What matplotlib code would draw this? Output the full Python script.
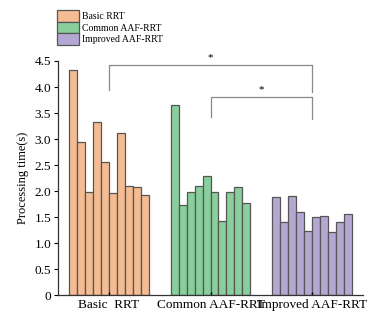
import numpy as np
import matplotlib
matplotlib.use("Agg")
import matplotlib.pyplot as plt

plt.rcParams["font.family"] = ["Liberation Serif", "DejaVu Serif"]

groups = ["Basic  RRT", "Common AAF-RRT", "Improved AAF-RRT"]
series_names = ["Basic RRT", "Common AAF-RRT", "Improved AAF-RRT"]
basic_rrt = [4.33, 2.94, 1.99, 3.32, 2.55, 1.96, 3.11, 2.09, 2.08, 1.92]
common_aaf = [3.65, 1.74, 1.99, 2.10, 2.29, 1.99, 1.42, 1.98, 2.07, 1.77]
improved_aaf = [1.88, 1.40, 1.91, 1.59, 1.23, 1.50, 1.52, 1.22, 1.40, 1.56]
colors = ["#F5BC93", "#88CF9C", "#B4A8D3"]
yticks = [0, 0.5, 1.0, 1.5, 2.0, 2.5, 3.0, 3.5, 4.0, 4.5]
ytick_labels = ["0", "0.5", "1.0", "1.5", "2.0", "2.5", "3.0", "3.5", "4.0", "4.5"]

fig = plt.figure(figsize=(3.8, 3.16), dpi=100)
ax = fig.add_axes([0.153, 0.066, 0.802, 0.741])

start = 1.375
stride = 12.75
centers = []
handles = []
for g, (vals, col) in enumerate(zip([basic_rrt, common_aaf, improved_aaf], colors)):
    x = start + g * stride + np.arange(len(vals)) + 0.5
    b = ax.bar(x, vals, width=1.0, color=col, edgecolor="#555555", linewidth=0.9)
    handles.append(b)
    centers.append(x.mean())

ax.set_xlim(0, 38.25)
ax.set_ylim(0, 4.5)
ax.set_yticks(yticks)
ax.set_yticklabels(ytick_labels, fontsize=9.5)
ax.set_xticks(centers)
ax.set_xticklabels(groups, fontsize=9.5)
ax.tick_params(axis="x", direction="in", length=2.5, width=1.0, pad=3)
ax.tick_params(axis="y", direction="out", length=3, width=0.8, pad=2)
ax.set_ylabel("Processing time(s)", fontsize=9)
for s in ["top", "right"]:
    ax.spines[s].set_visible(False)
for s in ["left", "bottom"]:
    ax.spines[s].set_color("#333333")
    ax.spines[s].set_linewidth(0.9)

# significance brackets
bc = "#888888"
ax.plot([centers[0], centers[0], centers[2], centers[2]], [3.94, 4.42, 4.42, 3.90],
        color=bc, lw=0.9, clip_on=False)
ax.text((centers[0] + centers[2]) / 2, 4.47, "*", ha="center", va="bottom", fontsize=8)
ax.plot([centers[1], centers[1], centers[2], centers[2]], [3.42, 3.81, 3.81, 3.38],
        color=bc, lw=0.9, clip_on=False)
ax.text((centers[1] + centers[2]) / 2, 3.86, "*", ha="center", va="bottom", fontsize=8)

leg = fig.legend(handles, series_names, loc="upper left", bbox_to_anchor=(0.132, 0.99),
                 frameon=False, fontsize=7, handlelength=2.3, handleheight=1.45,
                 handletextpad=0.3, labelspacing=0.0, borderaxespad=0.3)

fig.savefig("out.png", dpi=100)
